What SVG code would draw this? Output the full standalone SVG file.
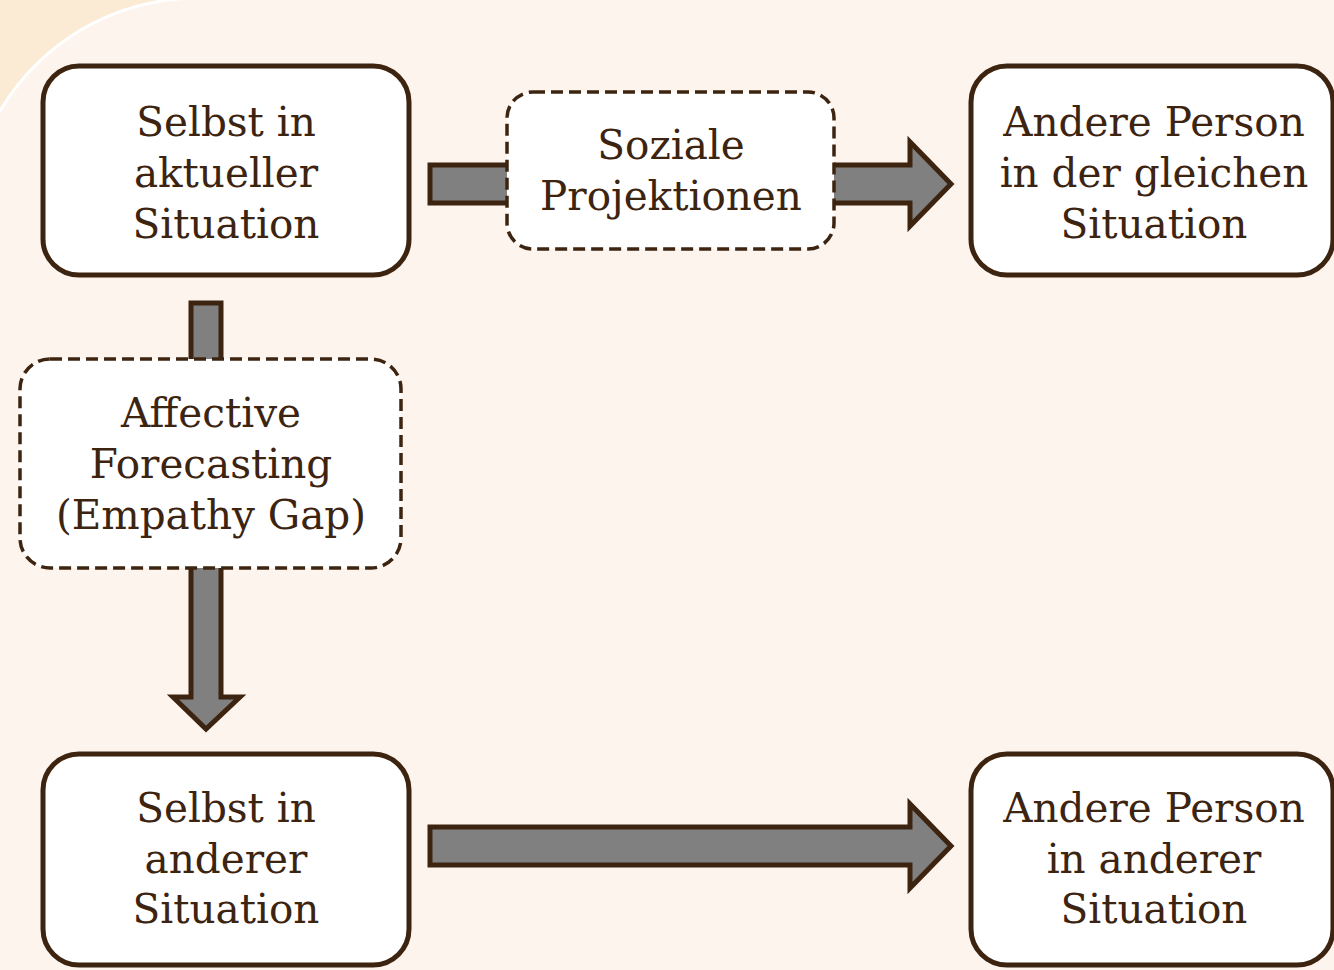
<svg xmlns="http://www.w3.org/2000/svg" width="1334" height="970" viewBox="0 0 1334 970">
<style>
.node{fill:#ffffff;stroke:#3d2410;stroke-width:5}
.dash{fill:#ffffff;stroke:#3d2410;stroke-width:3.5;stroke-dasharray:12 6}
.arrow{fill:#808080;stroke:#3d2410;stroke-width:5;stroke-linejoin:miter}
text{font-family:"DejaVu Serif","Liberation Serif",serif;font-size:40.5px;fill:#3d2410;text-anchor:middle}
</style>
<rect x="0" y="0" width="1334" height="970" fill="#fbebd4"/>
<path d="M -32 1000 L -32 228 A 230 230 0 0 1 198 -2 L 1400 -2 L 1400 1000 Z" fill="#fdf4ee" stroke="#ffffff" stroke-width="3"/>
<g id="connectors">
<path class="arrow" d="M 430 165 L 910 165 L 910 142 L 951 184 L 910 226 L 910 203 L 430 203 Z"/>
<path class="arrow" d="M 430 827 L 910 827 L 910 804 L 951 846 L 910 888 L 910 865 L 430 865 Z"/>
<path class="arrow" d="M 191 303 L 221 303 L 221 697 L 240 697 L 206 729 L 173 697 L 191 697 Z"/>
</g>
<g id="n1">
<rect class="node" x="43" y="66" width="366" height="209" rx="36"/>
<text x="226" y="136">Selbst in</text>
<text x="226" y="187">aktueller</text>
<text x="226" y="238">Situation</text>
</g>
<g id="n2">
<rect class="dash" x="507" y="92" width="327" height="157" rx="26"/>
<text x="671" y="159">Soziale</text>
<text x="671" y="210">Projektionen</text>
</g>
<g id="n3">
<rect class="node" x="971" y="66" width="362" height="209" rx="36"/>
<text x="1154" y="136">Andere Person</text>
<text x="1154" y="187">in der gleichen</text>
<text x="1154" y="238">Situation</text>
</g>
<g id="n4">
<rect class="dash" x="20" y="359" width="381" height="209" rx="30"/>
<text x="211" y="427">Affective</text>
<text x="211" y="478">Forecasting</text>
<text x="211" y="529">(Empathy Gap)</text>
</g>
<g id="n5">
<rect class="node" x="43" y="754" width="366" height="211" rx="36"/>
<text x="226" y="822">Selbst in</text>
<text x="226" y="873">anderer</text>
<text x="226" y="923">Situation</text>
</g>
<g id="n6">
<rect class="node" x="971" y="754" width="362" height="211" rx="36"/>
<text x="1154" y="822">Andere Person</text>
<text x="1154" y="873">in anderer</text>
<text x="1154" y="923">Situation</text>
</g>
</svg>
